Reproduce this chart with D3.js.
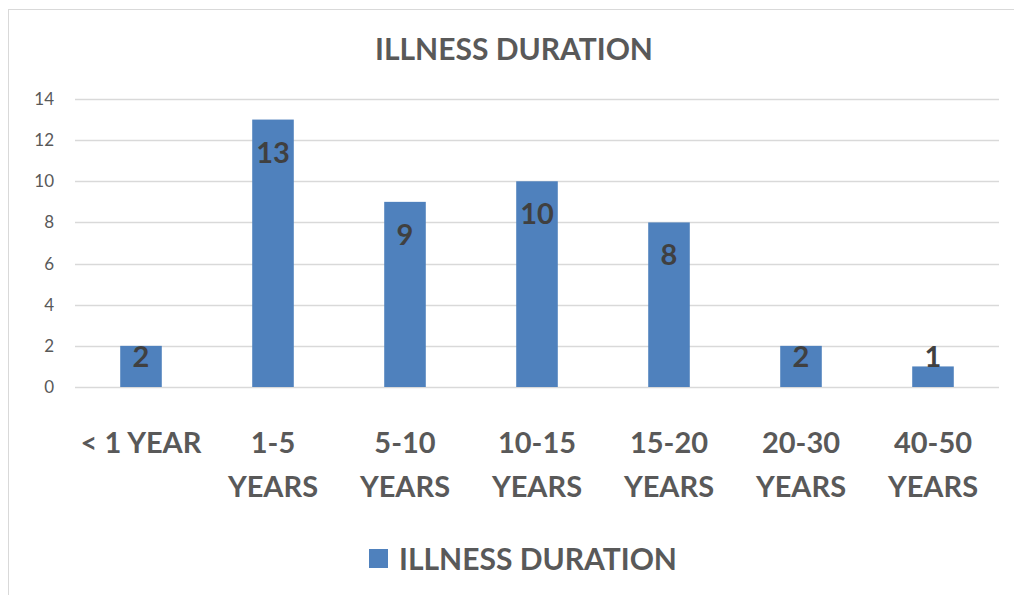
<!DOCTYPE html>
<html><head><meta charset="utf-8">
<script src="https://cdn.jsdelivr.net/npm/d3@7"></script>
<style>
html,body{margin:0;padding:0;background:#fff;}
svg{display:block;font-family:Lato,"Open Sans",sans-serif;}
</style></head>
<body><svg id="c" width="1014" height="595"></svg>
<script>
const categories = [["< 1 YEAR"], ["1-5","YEARS"], ["5-10","YEARS"], ["10-15","YEARS"], ["15-20","YEARS"], ["20-30","YEARS"], ["40-50","YEARS"]];
const values = [2, 13, 9, 10, 8, 2, 1];
const yTicks = [0, 2, 4, 6, 8, 10, 12, 14];
const seriesName = "ILLNESS DURATION";
const chartTitle = "ILLNESS DURATION";

const svg = d3.select("#c");
const W = 1014, H = 595;
const plot = {left: 75, right: 999, top: 99, bottom: 387};

svg.append("rect").attr("x", 8.5).attr("y", 9.5).attr("width", W + 10).attr("height", H + 10)
  .attr("fill", "#fff").attr("stroke", "#d9d9d9").attr("stroke-width", 1);

const x = d3.scaleBand().domain(d3.range(values.length)).range([plot.left, plot.right]).paddingInner(0.685).paddingOuter(0.3425);
const y = d3.scaleLinear().domain([0, 14]).range([plot.bottom, plot.top]);

// gridlines
svg.append("g").selectAll("line").data(yTicks).join("line")
  .attr("x1", plot.left).attr("x2", plot.right)
  .attr("y1", d => Math.round(y(d)) + 0.5).attr("y2", d => Math.round(y(d)) + 0.5)
  .attr("stroke", "#d9d9d9").attr("stroke-width", 1.3);

// y axis labels
const yAxis = d3.axisLeft(y).tickValues(yTicks).tickSize(0).tickPadding(0);
const ga = svg.append("g").attr("transform", `translate(54,0)`).call(yAxis);
ga.select(".domain").remove();
ga.selectAll("text").attr("font-size", 17).attr("fill", "#595959").attr("font-family", "Lato");

// bars
svg.append("g").selectAll("rect").data(values).join("rect")
  .attr("x", (d, i) => x(i)).attr("width", x.bandwidth())
  .attr("y", d => y(d)).attr("height", d => y(0) - y(d))
  .attr("fill", "#4f81bd");

// data labels
svg.append("g").selectAll("text").data(values).join("text")
  .attr("x", (d, i) => x(i) + x.bandwidth() / 2)
  .attr("y", d => Math.min(y(d) + 43, y(0) - 20))
  .attr("text-anchor", "middle").attr("font-size", 29).attr("font-weight", "bold")
  .attr("fill", "#404040").text(d => d);

// category labels
const cg = svg.append("g").selectAll("text").data(categories).join("text")
  .attr("x", (d, i) => x(i) + x.bandwidth() / 2)
  .attr("y", 453)
  .attr("text-anchor", "middle").attr("font-size", 29).attr("font-weight", "bold").attr("fill", "#595959");
cg.each(function(d, i) {
  const t = d3.select(this);
  d.forEach((line, k) => {
    t.append("tspan").attr("x", x(i) + x.bandwidth() / 2).attr("y", 453 + k * 44).text(line);
  });
});

// title
svg.append("text").attr("x", 514).attr("y", 60).attr("text-anchor", "middle")
  .attr("font-size", 30).attr("font-weight", "bold").attr("fill", "#595959").text(chartTitle);

// legend
const lg = svg.append("g");
lg.append("rect").attr("x", 369).attr("y", 549).attr("width", 19).attr("height", 19).attr("fill", "#4f81bd");
lg.append("text").attr("x", 399).attr("y", 570).attr("font-size", 30).attr("font-weight", "bold")
  .attr("fill", "#595959").text(seriesName);
</script></body></html>
